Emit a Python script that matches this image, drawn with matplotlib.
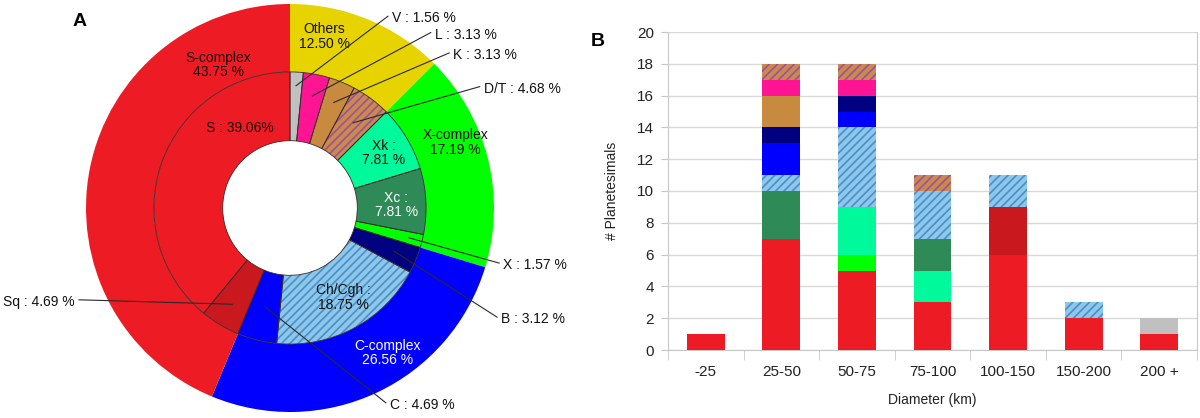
import matplotlib

matplotlib.use("Agg")
import matplotlib.pyplot as plt
from matplotlib.patches import Wedge
import numpy as np

plt.rcParams["font.family"] = ["Liberation Sans", "DejaVu Sans"]
plt.rcParams["hatch.linewidth"] = 1.2

# planetesimal counts per diameter bin and taxonomic class
bins = ["-25", "25-50", "50-75", "75-100", "100-150", "150-200", "200 +"]
S = [1, 7, 5, 3, 6, 2, 1]
Sq = [0, 0, 0, 0, 3, 0, 0]
X = [0, 0, 1, 0, 0, 0, 0]
Xk = [0, 0, 3, 2, 0, 0, 0]
Xc = [0, 3, 0, 2, 0, 0, 0]
Ch = [0, 1, 5, 3, 2, 1, 0]
C = [0, 2, 1, 0, 0, 0, 0]
B = [0, 1, 1, 0, 0, 0, 0]
K = [0, 2, 0, 0, 0, 0, 0]
L = [0, 1, 1, 0, 0, 0, 0]
DT = [0, 1, 1, 1, 0, 0, 0]
V = [0, 0, 0, 0, 0, 0, 1]

# donut rings, clockwise from 12 o'clock
inner_names = ["V", "L", "K", "D/T", "Xk", "Xc", "X", "B", "Ch/Cgh", "C", "Sq", "S"]
inner_series = [V, L, K, DT, Xk, Xc, X, B, Ch, C, Sq, S]
inner_labels = ["V : 1.56 %", "L : 3.13 %", "K : 3.13 %", "D/T : 4.68 %",
                "Xk :\n7.81 %", "Xc :\n7.81 %", "X : 1.57 %", "B : 3.12 %",
                "Ch/Cgh :\n18.75 %", "C : 4.69 %", "Sq : 4.69 %", "S : 39.06%"]
outer_names = ["Others", "X-complex", "C-complex", "S-complex"]
outer_members = [["V", "L", "K", "D/T"], ["Xk", "Xc", "X"], ["B", "Ch/Cgh", "C"], ["Sq", "S"]]
outer_pct = ["12.50 %", "17.19 %", "26.56 %", "43.75 %"]

# bar stacking order (bottom -> top)
stack_names = ["S", "Sq", "X", "Xk", "Xc", "Ch/Cgh", "C", "B", "K", "L", "D/T", "V"]

COLORS = {
    "S": "#ed1c24", "Sq": "#c9191e", "X": "#00ff00", "Xk": "#00f99a",
    "Xc": "#2e8b57", "Ch/Cgh": "#8dc8ea", "C": "#0000ff", "B": "#000080",
    "K": "#c88a3e", "L": "#ff1493", "D/T": "#c98a4e", "V": "#c0c0c0",
    "Others": "#e6d300", "X-complex": "#00ff00", "C-complex": "#0000ff",
    "S-complex": "#ed1c24",
}
HATCH = {"Ch/Cgh": "#4b8ec9", "D/T": "#a0509a"}

series = dict(zip(inner_names, inner_series))
inner_counts = [sum(v) for v in inner_series]
outer_counts = [sum(sum(series[m]) for m in grp) for grp in outer_members]

fig = plt.figure(figsize=(12, 4.18), dpi=100)

# ---------------- A: donut ----------------
R_PX = 204.0
cx, cy = 290.0, 208.0
axp = fig.add_axes([0, 0, 580 / 1200, 1])
axp.axis("off")

outer, _ = axp.pie(outer_counts, radius=1.0, startangle=90, counterclock=False,
                   colors=[COLORS[n] for n in outer_names],
                   wedgeprops=dict(width=0.333, linewidth=0))
inner, _ = axp.pie(inner_counts, radius=0.667, startangle=90, counterclock=False,
                   colors=[COLORS[n] for n in inner_names],
                   wedgeprops=dict(width=0.337, linewidth=0))
for w, name in zip(inner, inner_names):
    if name in HATCH:
        w.set_hatch("////")
        w.set_edgecolor(HATCH[name])
    axp.add_patch(Wedge(w.center, w.r, w.theta1, w.theta2, width=w.width,
                        fill=False, ec="#3a2a2a", lw=0.6))

axp.set_aspect("auto")
axp.set_xlim(-cx / R_PX, (580 - cx) / R_PX)
axp.set_ylim((cy - 418) / R_PX, cy / R_PX)

fs = 10
# labels inside the outer ring
outer_pos = {"Others": (0.17, 0.84, "#111111"), "X-complex": (0.81, 0.32, "#111111"),
             "C-complex": (0.48, -0.71, "white"), "S-complex": (-0.35, 0.70, "#1a0505")}
for name, pct in zip(outer_names, outer_pct):
    x, y, c = outer_pos[name]
    axp.text(x, y, f"{name}\n{pct}", ha="center", va="center", fontsize=fs,
             color=c, linespacing=1.05)

# labels inside inner slices
inside_pos = {"S": (-0.245, 0.39, "#1a0505"), "Xk": (0.46, 0.27, "#111111"),
              "Xc": (0.52, 0.015, "white"), "Ch/Cgh": (0.26, -0.44, "#111111")}
# callout labels: text anchor, alignment, leader end radius
callout_pos = {"V": (0.50, 0.93, "left", 0.6), "L": (0.71, 0.85, "left", 0.56),
               "K": (0.80, 0.75, "left", 0.56), "D/T": (0.95, 0.585, "left", 0.52),
               "X": (1.045, -0.28, "left", 0.6), "B": (1.035, -0.545, "left", 0.55),
               "C": (0.49, -0.965, "left", 0.5), "Sq": (-1.054, -0.46, "right", 0.55)}

for w, name, lab in zip(inner, inner_names, inner_labels):
    if name in inside_pos:
        x, y, c = inside_pos[name]
        axp.text(x, y, lab, ha="center", va="center", fontsize=fs, color=c,
                 linespacing=1.05)
    else:
        x, y, ha, rr = callout_pos[name]
        mid = np.deg2rad((w.theta1 + w.theta2) / 2)
        ex, ey = rr * np.cos(mid), rr * np.sin(mid)
        sx = x - 0.02 if ha == "left" else x + 0.02
        axp.plot([sx, ex], [y + 0.01, ey], color="#2a2a2a", lw=0.8, zorder=5)
        axp.text(x, y, lab, ha=ha, va="center", fontsize=fs, color="#111111")

fig.text(80 / 1200, 1 - 22 / 418, "A", ha="center", va="center",
         fontsize=14, fontweight="bold")

# ---------------- B: stacked bars ----------------
axb = fig.add_axes([668 / 1200, 68 / 418, 529 / 1200, 318 / 418])
xpos = np.arange(len(bins))
bottom = np.zeros(len(bins))
for name in stack_names:
    vals = np.array(series[name], dtype=float)
    if name in HATCH:
        axb.bar(xpos, vals, 0.5, bottom=bottom, color=COLORS[name],
                edgecolor=HATCH[name], hatch="////", linewidth=0, zorder=3)
    else:
        axb.bar(xpos, vals, 0.5, bottom=bottom, color=COLORS[name],
                linewidth=0, zorder=3)
    bottom += vals

axb.set_xlim(-0.5, len(bins) - 0.5)
axb.set_ylim(0, 20)
axb.set_yticks(range(0, 21, 2))
axb.set_xticks(xpos)
axb.set_xticklabels(bins)
axb.set_xticks(np.arange(-0.5, len(bins), 1.0), minor=True)
axb.grid(axis="y", color="#d9d9d9", lw=1, zorder=0)
for side in ["left", "bottom", "right"]:
    axb.spines[side].set_color("#c8c8c8")
axb.spines["top"].set_visible(False)
axb.tick_params(axis="x", which="major", length=0, pad=11, labelsize=11,
                labelcolor="#222222")
axb.tick_params(axis="x", which="minor", length=7, color="#c8c8c8")
axb.tick_params(axis="y", length=5, color="#c8c8c8", pad=5, labelsize=11,
                labelcolor="#222222")
axb.set_ylabel("# Planetesimals", fontsize=10, color="#222222")
axb.yaxis.set_label_coords(-0.092, 0.5)
axb.set_xlabel("Diameter (km)", fontsize=10, color="#222222")
axb.xaxis.set_label_coords(0.5, -0.135)

fig.text(598 / 1200, 1 - 41 / 418, "B", ha="center", va="center",
         fontsize=14, fontweight="bold")

fig.savefig("out.png", dpi=100)
